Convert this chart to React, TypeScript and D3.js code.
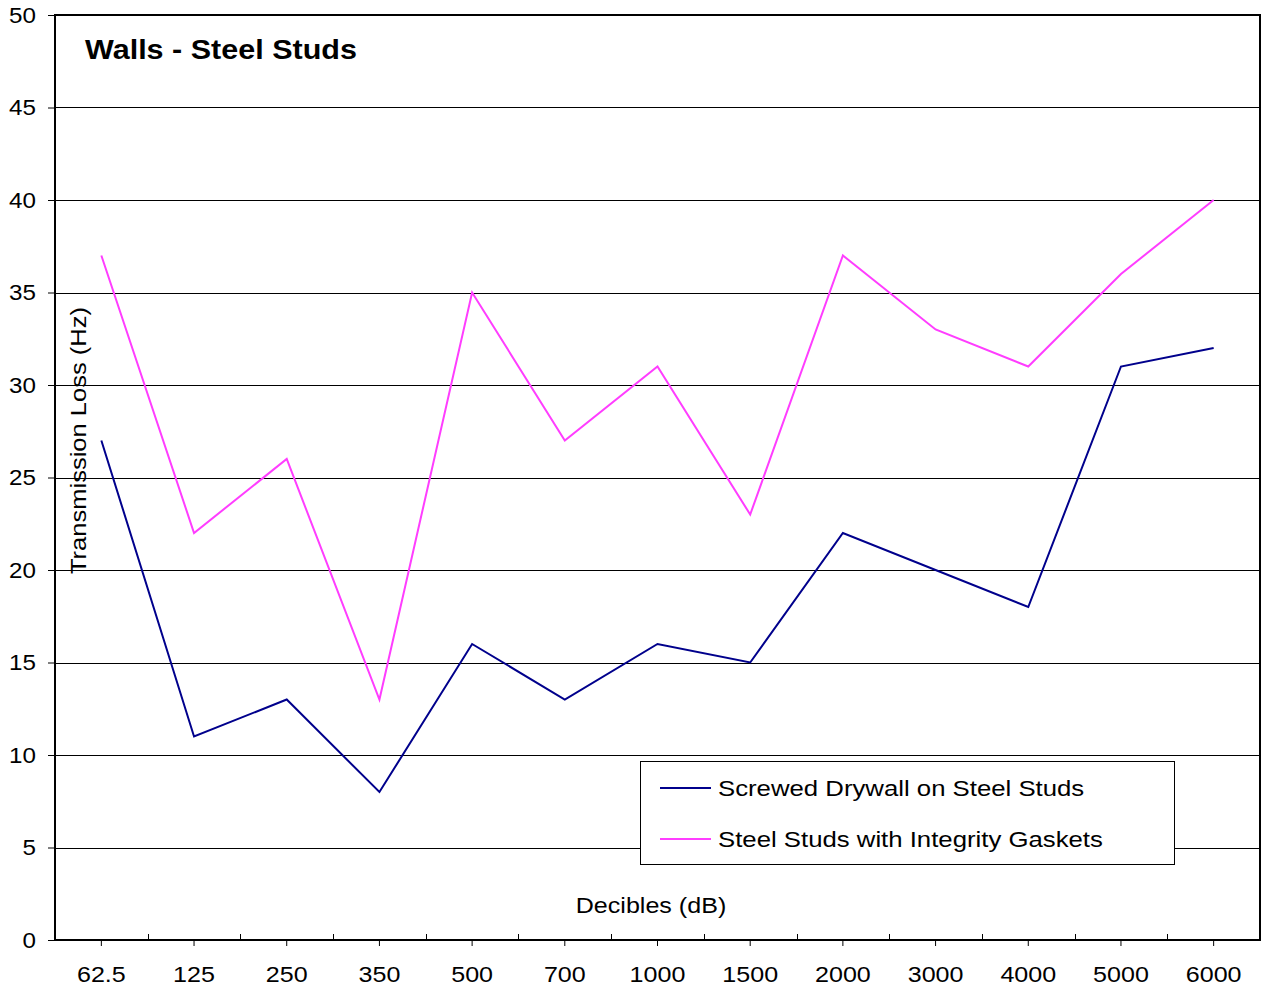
import React, { useRef, useEffect } from 'react';
import * as d3 from 'd3';

const categories = ['62.5', '125', '250', '350', '500', '700', '1000', '1500', '2000', '3000', '4000', '5000', '6000'];
const drywallValues = [27, 11, 13, 8, 16, 13, 16, 15, 22, 20, 18, 31, 32];
const gasketValues = [37, 22, 26, 13, 35, 27, 31, 23, 37, 33, 31, 36, 40];
const yTicks = [0, 5, 10, 15, 20, 25, 30, 35, 40, 45, 50];

const seriesList = [
  { name: 'Screwed Drywall on Steel Studs', values: drywallValues, color: '#00008c' },
  { name: 'Steel Studs with Integrity Gaskets', values: gasketValues, color: '#ff3dff' },
];

// the original's glyphs are a bit wider than Liberation Sans
const widen = (sel: d3.Selection<any, any, any, any>, k: number) => {
  sel.each(function () {
    const el = this as SVGTextElement;
    const len = el.getComputedTextLength();
    d3.select(el).attr('textLength', len * k).attr('lengthAdjust', 'spacingAndGlyphs');
  });
};

const App = () => {
  const svgRef = useRef<SVGSVGElement>(null);
  const width = 1262;
  const height = 987;

  useEffect(() => {
    const margin = { top: 15, right: 2, bottom: 47, left: 55 };
    const innerWidth = width - margin.left - margin.right;
    const innerHeight = height - margin.top - margin.bottom;
    const font = '"Liberation Sans", Arial, Helvetica, sans-serif';

    const root = d3.select(svgRef.current);
    root.selectAll('*').remove();

    const svg = root.append('g')
      .attr('transform', `translate(${margin.left},${margin.top})`);

    const x = d3.scaleBand()
      .domain(categories)
      .range([0, innerWidth]);

    const y = d3.scaleLinear()
      .domain([0, 50])
      .range([innerHeight, 0]);

    // gridlines
    svg.append('g')
      .selectAll('line')
      .data(yTicks.filter(d => d > 0 && d < 50))
      .enter()
      .append('line')
      .attr('x1', 0)
      .attr('x2', innerWidth)
      .attr('y1', d => Math.round(y(d)) + 0.5)
      .attr('y2', d => Math.round(y(d)) + 0.5)
      .style('stroke', '#000')
      .style('stroke-width', 1);

    // y axis ticks + labels
    const yAxis = svg.append('g')
      .call(d3.axisLeft(y).tickValues(yTicks).tickSize(7).tickPadding(12).tickFormat(d3.format('d')));
    yAxis.select('.domain').remove();
    yAxis.selectAll('text').style('font-family', font).style('font-size', '22px').attr('fill', '#000');
    widen(yAxis.selectAll('text'), 1.1);

    // x axis: ticks below at centers, ticks inside at band edges
    const xAxis = svg.append('g')
      .attr('transform', `translate(0,${innerHeight})`)
      .call(d3.axisBottom(x).tickSize(6).tickPadding(20));
    xAxis.select('.domain').remove();
    xAxis.selectAll('text').style('font-family', font).style('font-size', '22px').attr('fill', '#000');
    widen(xAxis.selectAll('text'), 1.14);

    svg.append('g')
      .selectAll('line')
      .data(categories.slice(1))
      .enter()
      .append('line')
      .attr('x1', d => Math.round(x(d)!) + 0.5)
      .attr('x2', d => Math.round(x(d)!) + 0.5)
      .attr('y1', innerHeight)
      .attr('y2', innerHeight - 6)
      .style('stroke', '#000');

    // series lines
    const line = d3.line<number>()
      .x((_, i) => x(categories[i])! + x.bandwidth() / 2)
      .y(d => y(d));

    svg.append('g')
      .selectAll('path')
      .data(seriesList)
      .enter()
      .append('path')
      .attr('d', d => line(d.values))
      .style('fill', 'none')
      .style('stroke', d => d.color)
      .style('stroke-width', 2);

    // frame
    svg.append('rect')
      .attr('x', 0)
      .attr('y', 0)
      .attr('width', innerWidth)
      .attr('height', innerHeight)
      .style('fill', 'none')
      .style('stroke', '#000')
      .style('stroke-width', 2);

    // title
    const title = svg.append('text')
      .attr('x', 30)
      .attr('y', 44)
      .text('Walls - Steel Studs')
      .style('font-family', font)
      .style('font-size', '28px')
      .style('font-weight', 'bold');
    widen(title, 1.09);

    // axis titles
    const yTitle = svg.append('text')
      .attr('transform', `translate(31,${y(27)}) rotate(-90)`)
      .attr('text-anchor', 'middle')
      .text('Transmission Loss (Hz)')
      .style('font-family', font)
      .style('font-size', '22px');
    widen(yTitle, 1.16);

    const xTitle = svg.append('text')
      .attr('x', 596)
      .attr('y', 898)
      .attr('text-anchor', 'middle')
      .text('Decibles (dB)')
      .style('font-family', font)
      .style('font-size', '22px');
    widen(xTitle, 1.14);

    // legend
    const legend = svg.append('g').attr('transform', 'translate(585,746)');
    legend.append('rect')
      .attr('x', 0.5)
      .attr('y', 0.5)
      .attr('width', 534)
      .attr('height', 103)
      .style('fill', '#fff')
      .style('stroke', '#000')
      .style('stroke-width', 1);

    const items = legend.selectAll('g.item')
      .data(seriesList)
      .enter()
      .append('g')
      .attr('class', 'item')
      .attr('transform', (_, i) => `translate(0,${27 + i * 51})`);

    items.append('line')
      .attr('x1', 20)
      .attr('x2', 71)
      .attr('y1', 0)
      .attr('y2', 0)
      .style('stroke', d => d.color)
      .style('stroke-width', 2);

    const labels = items.append('text')
      .attr('x', 78)
      .attr('y', 8)
      .text(d => d.name)
      .style('font-family', font)
      .style('font-size', '22px');
    widen(labels, 1.17);
  }, []);

  return (
    <svg
      ref={svgRef}
      width={width}
      height={height}
      style={{ position: 'absolute', left: 0, top: 0, background: '#fff' }}
    ></svg>
  );
};

export default App;
